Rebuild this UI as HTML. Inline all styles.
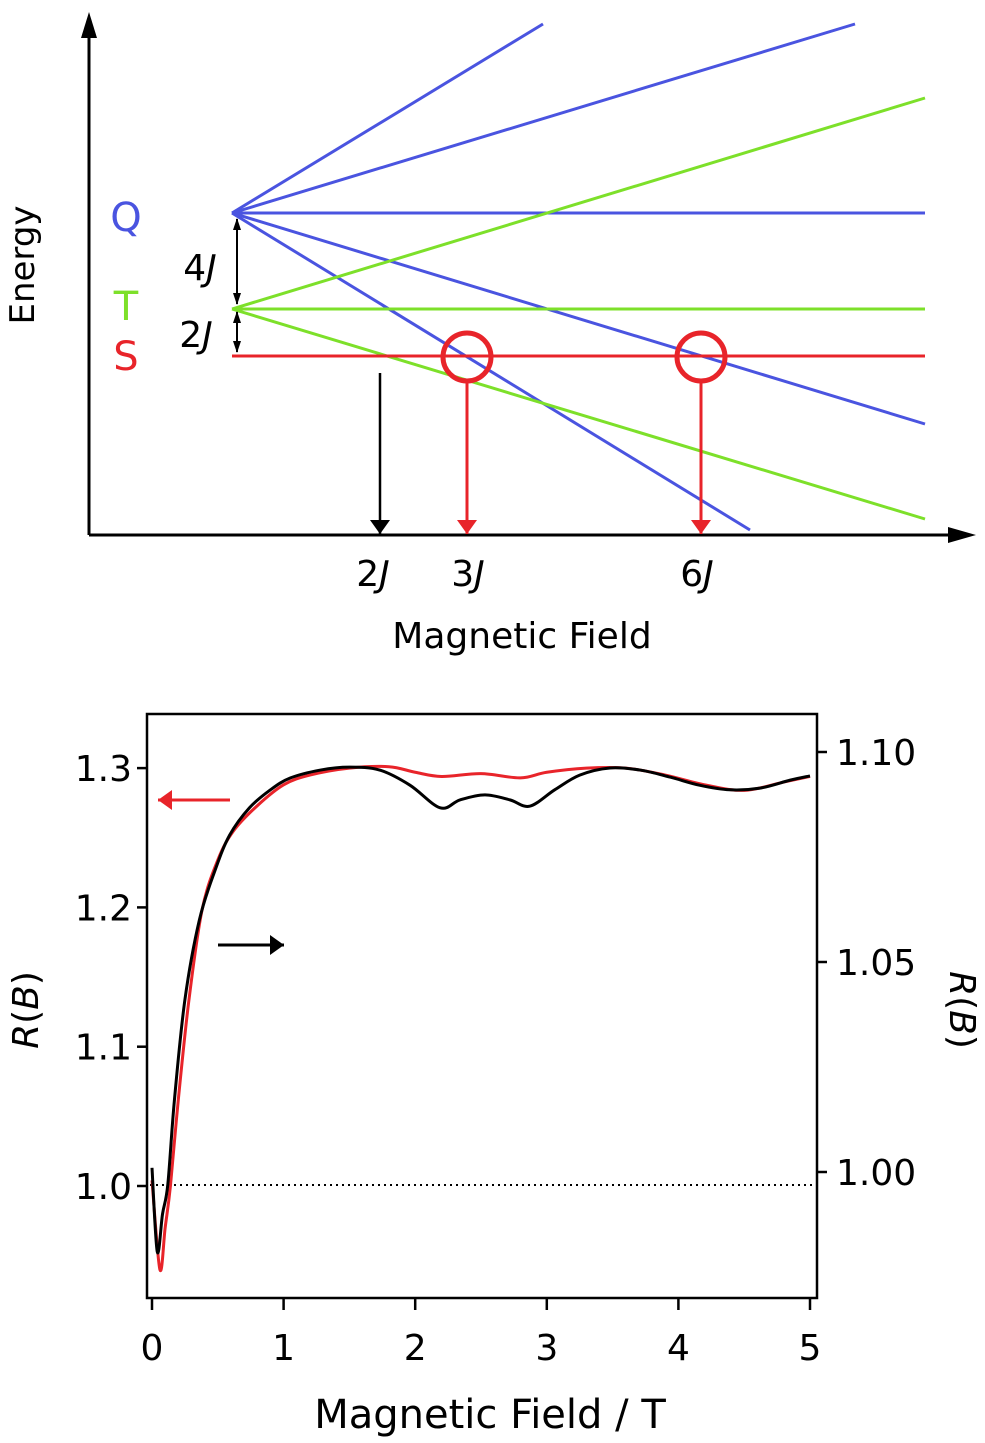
<!DOCTYPE html>
<html><head><meta charset="utf-8">
<style>
html,body{margin:0;padding:0;background:#fff;}
svg{display:block;font-family:"DejaVu Sans","Liberation Sans",sans-serif;}
</style></head>
<body>
<svg id="fig" width="985" height="1443" viewBox="0 0 985 1443" xmlns="http://www.w3.org/2000/svg">
<defs>
<marker id="ahR" markerWidth="14" markerHeight="20" refX="14" refY="10" orient="auto" markerUnits="userSpaceOnUse"><path d="M0,0 L14,10 L0,20 z" fill="#e8242a"/></marker>
<marker id="ahK" markerWidth="14" markerHeight="20" refX="14" refY="10" orient="auto" markerUnits="userSpaceOnUse"><path d="M0,0 L14,10 L0,20 z" fill="#000"/></marker>
</defs>

<g>
<line x1="89" y1="535" x2="89" y2="30" stroke="#000" stroke-width="3"/>
<path d="M81,38 L89,12 L97,38 z" fill="#000"/>
<line x1="89" y1="535" x2="955" y2="535" stroke="#000" stroke-width="3"/>
<path d="M948,527 L976,535 L948,543 z" fill="#000"/>
<g stroke="#4a54e0" stroke-width="3">
<line x1="232" y1="213" x2="543" y2="24"/>
<line x1="232" y1="213" x2="855" y2="24"/>
<line x1="232" y1="213" x2="925" y2="213"/>
<line x1="232" y1="213" x2="925" y2="424"/>
<line x1="232" y1="213" x2="750" y2="530"/>
</g>
<g stroke="#7de02a" stroke-width="3">
<line x1="232" y1="309" x2="925" y2="98"/>
<line x1="232" y1="309" x2="925" y2="309"/>
<line x1="232" y1="309" x2="925" y2="519"/>
</g>
<line x1="232" y1="356" x2="925" y2="356" stroke="#e8242a" stroke-width="3"/>
<circle cx="467" cy="357" r="24" fill="none" stroke="#e8242a" stroke-width="5"/>
<circle cx="701" cy="357" r="24" fill="none" stroke="#e8242a" stroke-width="5"/>
<line x1="467" y1="381" x2="467" y2="534" stroke="#e8242a" stroke-width="3" marker-end="url(#ahR)"/>
<line x1="701" y1="381" x2="701" y2="534" stroke="#e8242a" stroke-width="3" marker-end="url(#ahR)"/>
<line x1="380" y1="373" x2="380" y2="534" stroke="#000" stroke-width="2.5" marker-end="url(#ahK)"/>
<g stroke="#000" stroke-width="2">
<line x1="237" y1="219" x2="237" y2="304"/>
<line x1="237" y1="312" x2="237" y2="352"/>
</g>
<g fill="#000">
<path d="M233,230 L237,218 L241,230 z"/><path d="M233,293 L237,305 L241,293 z"/>
<path d="M233,323 L237,311 L241,323 z"/><path d="M233,341 L237,353 L241,341 z"/>
</g>
<text x="126" y="231" font-size="40" fill="#4a54e0" text-anchor="middle">Q</text>
<text x="126" y="320" font-size="40" fill="#7de02a" text-anchor="middle">T</text>
<text x="126" y="370" font-size="40" fill="#e8242a" text-anchor="middle">S</text>
<text x="200" y="280" font-size="36" text-anchor="middle">4<tspan font-style="italic">J</tspan></text>
<text x="196" y="347" font-size="36" text-anchor="middle">2<tspan font-style="italic">J</tspan></text>
<text x="373" y="586" font-size="36" text-anchor="middle">2<tspan font-style="italic">J</tspan></text>
<text x="468" y="586" font-size="36" text-anchor="middle">3<tspan font-style="italic">J</tspan></text>
<text x="697" y="586" font-size="36" text-anchor="middle">6<tspan font-style="italic">J</tspan></text>
<text x="522" y="648" font-size="36" text-anchor="middle">Magnetic Field</text>
<text x="0" y="0" font-size="34" text-anchor="middle" transform="translate(34,265) rotate(-90)">Energy</text>
</g>

<g id="chart">
<rect x="147" y="714" width="670" height="584" fill="none" stroke="#000" stroke-width="2.5"/>
<line x1="150" y1="1185" x2="812" y2="1185" stroke="#000" stroke-width="2" stroke-dasharray="2,4"/>
<g id="axes"></g>
<g id="series"></g>
<line x1="230" y1="800" x2="158" y2="800" stroke="#e8242a" stroke-width="3" marker-end="url(#ahR)"/>
<line x1="218" y1="945" x2="284" y2="945" stroke="#000" stroke-width="3" marker-end="url(#ahK)"/>
<text x="490" y="1428" font-size="40" text-anchor="middle">Magnetic Field / T</text>
<text x="0" y="0" font-size="36" text-anchor="middle" transform="translate(38,1010) rotate(-90)"><tspan font-style="italic">R</tspan>(<tspan font-style="italic">B</tspan>)</text>
<text x="0" y="0" font-size="36" text-anchor="middle" transform="translate(950,1010) rotate(90)"><tspan font-style="italic">R</tspan>(<tspan font-style="italic">B</tspan>)</text>
</g>
</svg>
<script>
const xTicks=[0,1,2,3,4,5];
const leftTicks=[1.0,1.1,1.2,1.3];
const leftTickLabels=["1.0","1.1","1.2","1.3"];
const rightTicks=[1.00,1.05,1.10];
const rightTickLabels=["1.00","1.05","1.10"];
const redB=[0,0.06,0.1,0.14,0.2,0.28,0.38,0.5,0.62,0.8,1.0,1.2,1.5,1.8,2.0,2.2,2.5,2.8,3.0,3.3,3.6,3.9,4.2,4.5,4.8,5.0];
const redR=[1.004,0.94,0.97,1.0,1.062,1.133,1.198,1.234,1.255,1.273,1.288,1.295,1.3,1.301,1.297,1.294,1.296,1.293,1.297,1.3,1.3,1.295,1.288,1.284,1.29,1.294];
const blackB=[0,0.04,0.08,0.12,0.17,0.25,0.36,0.48,0.59,0.74,0.9,1.05,1.28,1.5,1.73,1.96,2.19,2.34,2.53,2.72,2.87,3.06,3.25,3.48,3.71,3.94,4.16,4.39,4.62,4.85,5.0];
const blackR=[1.001,0.981,0.99,0.997,1.017,1.041,1.06,1.0719,1.0802,1.0867,1.091,1.0938,1.0957,1.0964,1.0957,1.0921,1.0867,1.0886,1.0898,1.0886,1.0871,1.091,1.0945,1.0962,1.0957,1.094,1.0921,1.091,1.0914,1.0933,1.0943];
const NS="http://www.w3.org/2000/svg";
const xS=v=>152+v*131.6;
const yL=v=>1186-(v-1.0)*1393;
const yR=v=>1172-(v-1.0)*4200;
const axes=document.getElementById('axes');
function mk(tag,attrs,parent){const e=document.createElementNS(NS,tag);for(const k in attrs)e.setAttribute(k,attrs[k]);parent.appendChild(e);return e;}
function smooth(pts){
  let d='M'+pts[0][0]+','+pts[0][1];
  for(let i=0;i<pts.length-1;i++){
    const p0=pts[Math.max(0,i-1)],p1=pts[i],p2=pts[i+1],p3=pts[Math.min(pts.length-1,i+2)];
    const c1x=p1[0]+(p2[0]-p0[0])/6,c1y=p1[1]+(p2[1]-p0[1])/6;
    const c2x=p2[0]-(p3[0]-p1[0])/6,c2y=p2[1]-(p3[1]-p1[1])/6;
    d+=' C'+c1x+','+c1y+' '+c2x+','+c2y+' '+p2[0]+','+p2[1];
  }
  return d;
}
xTicks.forEach(t=>{
  const l=mk('line',{x1:xS(t),x2:xS(t),y1:1298,y2:1310,stroke:'#000','stroke-width':2.5},axes);
  
  
  const tx=mk('text',{x:xS(t),y:1360,'font-size':36,'text-anchor':'middle'},axes);
  tx.textContent=String(t);
  
  
});
leftTicks.forEach((t,i)=>{
  const l=mk('line',{x1:137,x2:147,y1:yL(t),y2:yL(t),stroke:'#000','stroke-width':2.5},axes);
  
  
  const tx=mk('text',{x:132,y:yL(t)+13,'font-size':36,'text-anchor':'end'},axes);
  tx.textContent=leftTickLabels[i];
  
  
});
rightTicks.forEach((t,i)=>{
  const l=mk('line',{x1:817,x2:827,y1:yR(t),y2:yR(t),stroke:'#000','stroke-width':2.5},axes);
  
  
  const tx=mk('text',{x:836,y:yR(t)+13,'font-size':36,'text-anchor':'start'},axes);
  tx.textContent=rightTickLabels[i];
  
  
});
const series=document.getElementById('series');
const rp=mk('path',{d:smooth(redB.map((b,i)=>[xS(b),yL(redR[i])])),fill:'none',stroke:'#e8242a','stroke-width':3,'stroke-linejoin':'round'},series);


const bp=mk('path',{d:smooth(blackB.map((b,i)=>[xS(b),yR(blackR[i])])),fill:'none',stroke:'#000','stroke-width':3,'stroke-linejoin':'round'},series);


</script>
</body></html>
